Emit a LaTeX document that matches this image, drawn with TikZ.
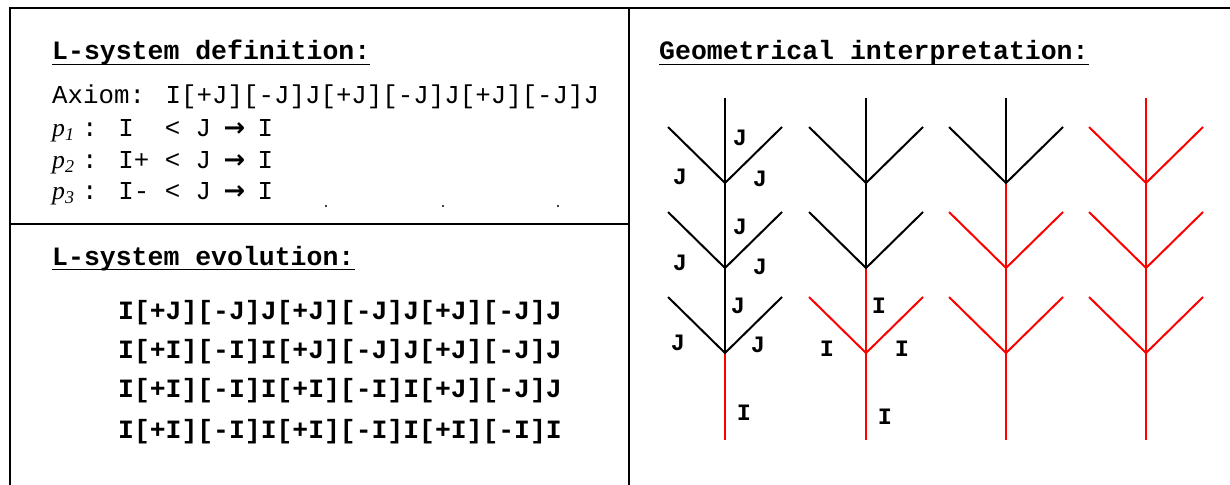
\documentclass[tikz,border=0pt]{standalone}
\usepackage{fontspec}
\setmainfont{Liberation Mono}
\newfontfamily\prodfont{Liberation Serif}
\newfontfamily\arrowfont{DejaVu Sans}
\usetikzlibrary{positioning, calc}
\definecolor{lsysRed}{RGB}{255,0,0}

\begin{document}
\begin{tikzpicture}[x=1pt, y=-1pt,
    every node/.style={inner sep=0pt, anchor=base west},
    heading/.style={font=\fontsize{26.5}{30}\selectfont\bfseries},
    deftext/.style={font=\fontsize{25.8}{30}\selectfont},
    evotext/.style={font=\fontsize{26.4}{30}\selectfont\bfseries},
    seglabel/.style={anchor=center, font=\fontsize{23.5}{26}\selectfont\bfseries},
    frame/.style={line width=2pt, line cap=rect},
    stem/.style={line width=2pt},
    branch/.style={line width=2pt}]
				\useasboundingbox (0,0) rectangle (1230,484);
				% Panel frame
				\draw[frame] (10,484) -- (10,8) -- (1230,8);
				\draw[frame] (629,8) -- (629,484);
				\draw[frame] (10,224) -- (629,224);
				% Definition panel
				\node[heading] (defTitle) at (52,60) {L-system definition:};
				\draw[line width=1.6pt] ([yshift=-4.5pt]defTitle.base west) -- ([yshift=-4.5pt]defTitle.base east);
				\node[deftext] (axiom) at (52,104) {Axiom: I[+J][-J]J[+J][-J]J[+J][-J]J};
				\node[deftext] (ruleOne) at (52,136) {\makebox[30pt][l]{\prodfont\itshape p{\fontsize{18}{20}\selectfont\raisebox{-4pt}{1}}}: I\ \ < J \makebox[15.5pt]{\arrowfont\bfseries →} I};
				\node[deftext] (ruleTwo) at (52,168) {\makebox[30pt][l]{\prodfont\itshape p{\fontsize{18}{20}\selectfont\raisebox{-4pt}{2}}}: I+ < J \makebox[15.5pt]{\arrowfont\bfseries →} I};
				\node[deftext] (ruleThree) at (52,199) {\makebox[30pt][l]{\prodfont\itshape p{\fontsize{18}{20}\selectfont\raisebox{-4pt}{3}}}: I- < J \makebox[15.5pt]{\arrowfont\bfseries →} I};
				\fill (326,206) circle (1.2pt);
				\fill (443,206) circle (1.2pt);
				\fill (558,206) circle (1.2pt);
				% Evolution panel
				\node[heading] (evoTitle) at (52,265) {L-system evolution:};
				\draw[line width=1.6pt] ([yshift=-4.5pt]evoTitle.base west) -- ([yshift=-4.5pt]evoTitle.base east);
				\node[evotext] (stepZero) at (118,319) {I[+J][-J]J[+J][-J]J[+J][-J]J};
				\node[evotext] (stepOne) at (118,358) {I[+I][-I]I[+J][-J]J[+J][-J]J};
				\node[evotext] (stepTwo) at (118,397) {I[+I][-I]I[+I][-I]I[+J][-J]J};
				\node[evotext] (stepThree) at (118,438) {I[+I][-I]I[+I][-I]I[+I][-I]I};
				% Interpretation panel
				\node[heading] (geoTitle) at (659,60) {Geometrical interpretation:};
				\draw[line width=1.6pt] ([yshift=-4.5pt]geoTitle.base west) -- ([yshift=-4.5pt]geoTitle.base east);
				% Tree 1: only the base segment is I
				\draw[stem] (725,98) -- (725,353);
				\draw[stem, lsysRed] (725,353) -- (725,440);
				\draw[branch] (668,127) -- (725,183) -- (782,127);
				\draw[branch] (668,212) -- (725,268) -- (782,212);
				\draw[branch] (668,297) -- (725,353) -- (782,297);
				\node[seglabel] (tOneJa) at (740,138) {J};
				\node[seglabel] (tOneJb) at (680,177) {J};
				\node[seglabel] (tOneJc) at (760,179) {J};
				\node[seglabel] (tOneJd) at (740,227) {J};
				\node[seglabel] (tOneJe) at (680,263) {J};
				\node[seglabel] (tOneJf) at (760,267) {J};
				\node[seglabel] (tOneJg) at (738,306) {J};
				\node[seglabel] (tOneJh) at (678,343) {J};
				\node[seglabel] (tOneJi) at (758,345) {J};
				\node[seglabel] (tOneI) at (744,413) {I};
				% Tree 2: first whorl turned to I
				\draw[stem] (866,98) -- (866,268);
				\draw[stem, lsysRed] (866,268) -- (866,440);
				\draw[branch] (809,127) -- (866,183) -- (923,127);
				\draw[branch] (809,212) -- (866,268) -- (923,212);
				\draw[branch, lsysRed] (809,297) -- (866,353) -- (923,297);
				\node[seglabel] (tTwoIa) at (879,306) {I};
				\node[seglabel] (tTwoIb) at (827,349) {I};
				\node[seglabel] (tTwoIc) at (902,349) {I};
				\node[seglabel] (tTwoId) at (885,417) {I};
				% Tree 3: two whorls turned to I
				\draw[stem] (1006,98) -- (1006,183);
				\draw[stem, lsysRed] (1006,183) -- (1006,440);
				\draw[branch] (949,127) -- (1006,183) -- (1063,127);
				\draw[branch, lsysRed] (949,212) -- (1006,268) -- (1063,212);
				\draw[branch, lsysRed] (949,297) -- (1006,353) -- (1063,297);
				% Tree 4: all I
				\draw[stem, lsysRed] (1146,98) -- (1146,440);
				\draw[branch, lsysRed] (1089,127) -- (1146,183) -- (1203,127);
				\draw[branch, lsysRed] (1089,212) -- (1146,268) -- (1203,212);
				\draw[branch, lsysRed] (1089,297) -- (1146,353) -- (1203,297);
			\end{tikzpicture}
\end{document}
